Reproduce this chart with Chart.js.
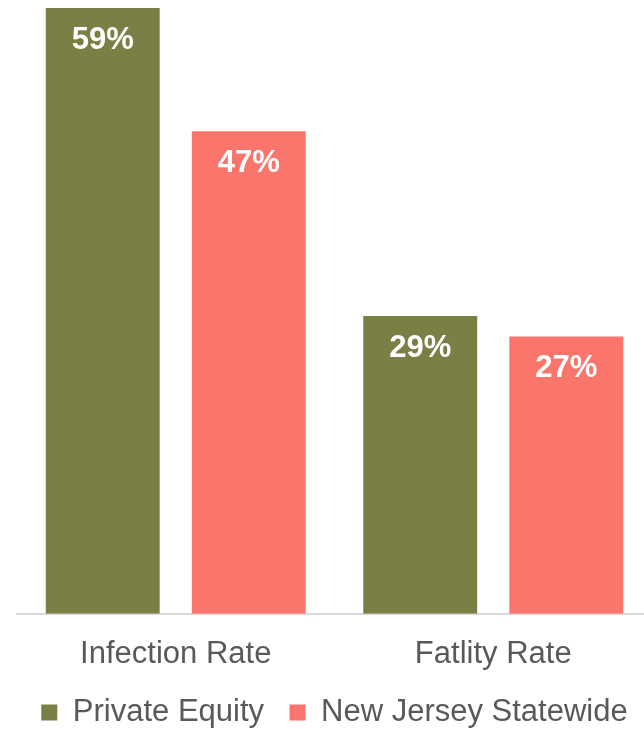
<!DOCTYPE html>
<html lang="en">
<head>
  <meta charset="UTF-8">
  <title>Rates</title>
  <script src="https://cdn.jsdelivr.net/npm/chart.js"></script>
  <style>
    html, body {
      margin: 0;
      padding: 0;
      background: #ffffff;
      overflow: hidden;
    }

    .wrap {
      width: 644px;
      height: 729px;
      overflow: hidden;
    }

    .chart-box {
      position: relative;
      width: 652px;
      height: 729px;
    }
  </style>
</head>
<body>

  <div class="wrap">
    <div class="chart-box">
      <canvas id="rateChart"></canvas>
    </div>
  </div>

  <script>
    const categories = ['Infection Rate', 'Fatlity Rate'];
    const privateEquity = [59, 29];
    const statewide = [47, 27];
    const seriesNames = ['Private Equity', 'New Jersey Statewide'];

    const textGray = '#595959';
    const fontFamily = "'Liberation Sans', Arial, sans-serif";

    // white value labels inside the top of each bar
    const insideLabels = {
      id: 'insideLabels',
      afterDatasetsDraw(chart) {
        const ctx = chart.ctx;
        ctx.save();
        ctx.fillStyle = '#ffffff';
        ctx.font = 'bold 31px ' + fontFamily;
        ctx.textAlign = 'center';
        ctx.textBaseline = 'middle';
        chart.data.datasets.forEach((ds, i) => {
          chart.getDatasetMeta(i).data.forEach((bar, j) => {
            ctx.fillText(ds.data[j] + '%', bar.x, bar.y + 32);
          });
        });
        ctx.restore();
      }
    };

    const ctx = document.getElementById('rateChart').getContext('2d');
    new Chart(ctx, {
      type: 'bar',
      data: {
        labels: categories,
        datasets: [{
          label: seriesNames[0],
          data: privateEquity,
          backgroundColor: '#7a7f45',
          barPercentage: 0.78,
          categoryPercentage: 0.92
        }, {
          label: seriesNames[1],
          data: statewide,
          backgroundColor: '#fa756b',
          barPercentage: 0.78,
          categoryPercentage: 0.92
        }]
      },
      options: {
        responsive: true,
        maintainAspectRatio: false,
        animation: false,
        layout: {
          padding: { top: 8, left: 17, right: 0, bottom: -9 }
        },
        plugins: {
          tooltip: { enabled: false },
          legend: {
            position: 'bottom',
            labels: {
              color: textGray,
              font: { size: 31, family: fontFamily },
              boxWidth: 16,
              boxHeight: 16,
              padding: 10,
              generateLabels(chart) {
                const items = Chart.defaults.plugins.legend.labels.generateLabels(chart);
                // a little extra room after the first entry
                items[0].text = items[0].text + '\u2002';
                return items;
              }
            }
          }
        },
        scales: {
          x: {
            grid: { display: false },
            border: { display: true, color: '#d9d9d9', width: 2 },
            ticks: {
              color: textGray,
              font: { size: 31, family: fontFamily },
              padding: 14
            }
          },
          y: {
            display: false,
            min: 0,
            max: 59
          }
        }
      },
      plugins: [insideLabels]
    });
  </script>

</body>
</html>
